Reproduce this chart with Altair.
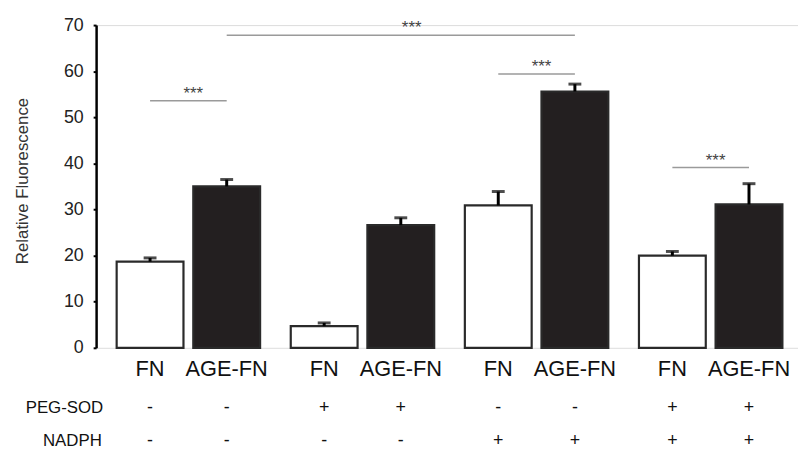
import altair as alt
import pandas as pd

FONT = "Liberation Sans"

# ---- data ----
groups = ["G1", "G1", "G2", "G2", "G3", "G3", "G4", "G4"]
types = ["FN", "AGE-FN", "FN", "AGE-FN", "FN", "AGE-FN", "FN", "AGE-FN"]
values = [18.7, 35.0, 4.7, 26.6, 30.9, 55.6, 20.0, 31.1]
errors = [0.8, 1.5, 0.7, 1.6, 3.0, 1.6, 0.9, 4.5]
peg_sod = ["-", "-", "+", "+", "-", "-", "+", "+"]
nadph = ["-", "-", "-", "-", "+", "+", "+", "+"]

group_domain = ["G1", "G2", "G3", "G4"]
type_domain = ["FN", "AGE-FN"]

# significance brackets: start (group, type), end (group, type), height
br_start_group = ["G1", "G1", "G3", "G4"]
br_start_type = ["FN", "AGE-FN", "FN", "FN"]
br_end_group = ["G1", "G3", "G3", "G4"]
br_end_type = ["AGE-FN", "AGE-FN", "AGE-FN", "AGE-FN"]
br_height = [53.6, 67.8, 59.4, 39.1]
br_label = ["***", "***", "***", "***"]

df = pd.DataFrame({
    "group": groups, "type": types, "value": values, "err": errors,
    "peg": peg_sod, "nadph": nadph,
})
df["top"] = df["value"] + df["err"]

rows = []
for i in range(len(br_height)):
    rows.append({"id": i, "group": br_start_group[i], "type": br_start_type[i], "y": br_height[i]})
    rows.append({"id": i, "group": br_end_group[i], "type": br_end_type[i], "y": br_height[i]})
br_df = pd.DataFrame(rows)

# star labels: brackets within one group sit at the group centre
stars_in_group = pd.DataFrame({
    "group": [br_start_group[i] for i in (0, 2, 3)],
    "y": [br_height[i] for i in (0, 2, 3)],
    "label": [br_label[i] for i in (0, 2, 3)],
})
stars_wide = pd.DataFrame({"group": ["G2"], "type": ["AGE-FN"], "y": [br_height[1]], "label": [br_label[1]]})

x_scale = alt.Scale(domain=group_domain, range=[0, 714], paddingInner=0, paddingOuter=0.03)
xo_scale = alt.Scale(domain=type_domain, paddingInner=0.128, paddingOuter=0.2)
y_scale = alt.Scale(domain=[0, 70], nice=False)

x_axis = alt.Axis(labels=False, title=None, ticks=True, tickSize=4, tickWidth=2,
                  tickColor="black", domainColor="black", domainWidth=2.5,
                  tickBand="extent", grid=False)
y_axis = alt.Axis(values=list(range(0, 71, 10)), grid=False, domainColor="black",
                  domainWidth=2.5, tickColor="black", tickSize=3, tickWidth=2,
                  labelFont=FONT, labelFontSize=18, labelColor="#222", labelPadding=10,
                  title="Relative Fluorescence", titleFont=FONT, titleFontSize=17,
                  titleFontWeight="normal", titleColor="#333",
                  titleX=-74, titleY=157, titleAngle=270, titleBaseline="middle",
                  titleAlign="center")

X = alt.X("group:N", scale=x_scale, axis=x_axis)
Xn = alt.X("group:N", scale=x_scale, axis=None)
XO = alt.XOffset("type:N", scale=xo_scale)

base = alt.Chart(df)

bars = base.mark_bar(stroke="#2a2a2a", strokeWidth=2.2).encode(
    x=X, xOffset=XO,
    y=alt.Y("value:Q", scale=y_scale, axis=y_axis),
    fill=alt.Fill("type:N", scale=alt.Scale(domain=type_domain, range=["white", "#231f20"]), legend=None),
)

err_rule = base.mark_rule(color="black", strokeWidth=3).encode(
    x=Xn, xOffset=XO, y=alt.Y("value:Q", scale=y_scale), y2="top:Q")
err_cap = base.mark_tick(color="black", size=13, thickness=3).encode(
    x=Xn, xOffset=XO, y=alt.Y("top:Q", scale=y_scale))

brackets = alt.Chart(br_df).mark_line(color="#9a9a9a", strokeWidth=1.5).encode(
    x=Xn, xOffset=XO, y=alt.Y("y:Q", scale=y_scale), detail="id:N")

stars1 = alt.Chart(stars_in_group).mark_text(
    font=FONT, fontSize=17, color="#444", baseline="alphabetic", dy=-2, dx=5).encode(
    x=Xn, y=alt.Y("y:Q", scale=y_scale), text="label:N")
stars2 = alt.Chart(stars_wide).mark_text(
    font=FONT, fontSize=17, color="#444", baseline="alphabetic", dy=-2, dx=11).encode(
    x=Xn, xOffset=XO, y=alt.Y("y:Q", scale=y_scale), text="label:N")

type_labels = base.mark_text(font=FONT, fontSize=22, color="#111").encode(
    x=Xn, xOffset=XO, y=alt.value(347), text="type:N")
peg_labels = base.mark_text(font=FONT, fontSize=18, color="#111").encode(
    x=Xn, xOffset=XO, y=alt.value(387), text="peg:N")
nadph_labels = base.mark_text(font=FONT, fontSize=18, color="#111").encode(
    x=Xn, xOffset=XO, y=alt.value(420), text="nadph:N")

row1 = alt.Chart(alt.Data(values=[{"label": "PEG-SOD"}])).mark_text(
    font=FONT, fontSize=17, color="#111").encode(x=alt.value(-32), y=alt.value(387), text="label:N")
row2 = alt.Chart(alt.Data(values=[{"label": "NADPH"}])).mark_text(
    font=FONT, fontSize=17, color="#111").encode(x=alt.value(-24), y=alt.value(420), text="label:N")

chart = alt.layer(
    bars, err_rule, err_cap, brackets, stars1, stars2,
    type_labels, peg_labels, nadph_labels, row1, row2,
).properties(
    width=709, height=326,
    autosize=alt.AutoSizeParams(type="none"),
    padding={"left": 89, "top": 15, "right": 0, "bottom": 105},
).configure_view(stroke=None).configure(background="white")

chart.save("out.html", embed_options={"renderer": "svg", "actions": False})
